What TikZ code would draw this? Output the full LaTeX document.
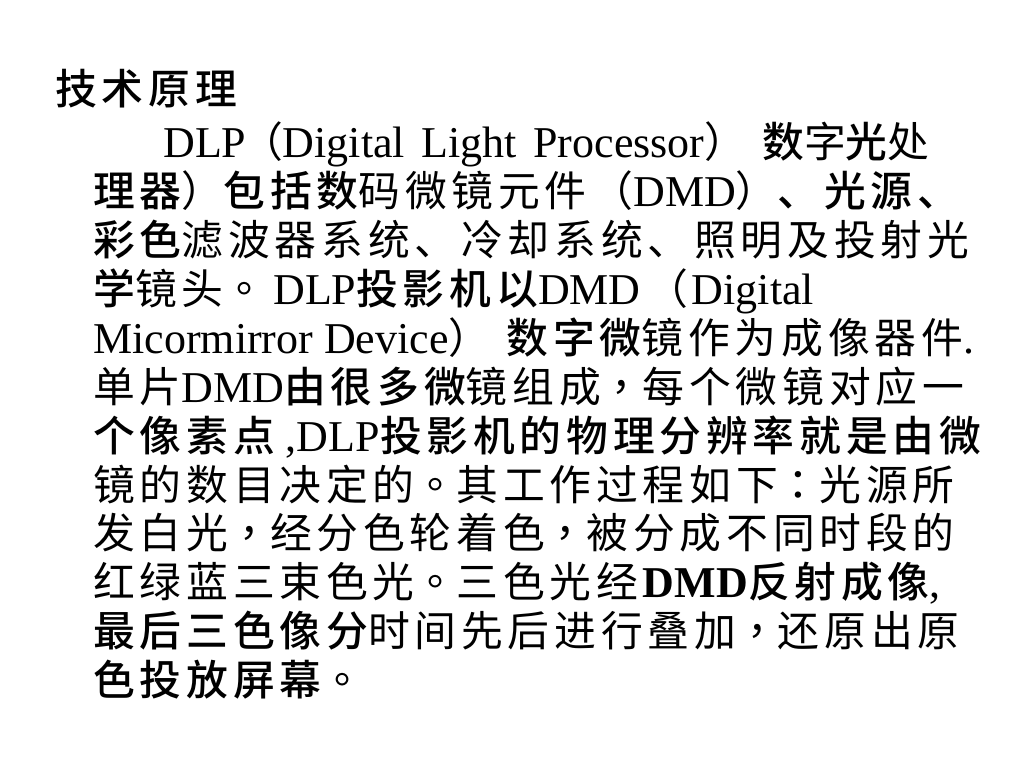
\documentclass[tikz,border=0pt]{standalone}
\usepackage{fontspec}
\setmainfont{Liberation Serif}
\newfontfamily\cjk[Scale=0.95,LetterSpace=11.5,BoldFont={Noto Sans CJK SC Medium}]{Noto Sans CJK SC}
\newfontfamily\cjktc[Scale=0.95,LetterSpace=11.5]{Noto Sans CJK TC}
\newcommand\zh[1]{{\cjk #1}}
\newcommand\zhb[1]{{\cjk\bfseries #1}}
\newcommand\zhp[1]{{\cjktc #1}}
\begin{document}
\begin{tikzpicture}[x=0.75pt,y=-0.75pt,
  txtline/.style={anchor=base west,inner sep=0pt,font=\fontsize{33}{40}\selectfont}]
\fill[white] (0,0) rectangle (1024,768);
\useasboundingbox (0,0) rectangle (1024,768);
\node[txtline] (t)   at (55,104)  {\zhb{技术原理}};
\node[txtline] (l1)  at (163,157) {DLP\hspace{-4pt}\zh{（}\hspace{0pt}Digital\hspace{12.4pt}Light\hspace{12.4pt}Processor\zh{）}\hspace{12pt}\zhb{数}\zh{字}\zhb{光}\zh{处}};
\node[txtline] (l2)  at (93,206)  {\zhb{理器}\zh{）}\zhb{包括数}\zh{码微镜元件（}DMD\zh{）}\zhb{、光源、}};
\node[txtline] (l3)  at (93,255)  {\zhb{彩色}\zh{滤波器系统、冷却系统、照明及投射光}};
\node[txtline] (l4)  at (93,304)  {\zhb{学}\zh{镜头}\zhp{。}\hspace{6pt}DLP\zhb{投影机以}DMD\hspace{4pt}\zh{（}\hspace{3pt}Digital};
\node[txtline] (l5)  at (93,353)  {Micormirror Device\zh{）}\hspace{12pt}\zhb{数字微}\zh{镜作为成像器件}.};
\node[txtline] (l6)  at (93,402)  {\zh{单片}DMD\zhb{由很多微}\zh{镜组成}\zhp{，}\zh{每个微镜对应一}};
\node[txtline] (l7)  at (93,451)  {\zhb{个像素点} ,DLP\zhb{投影机的物理分辨率就是由微}};
\node[txtline] (l8)  at (93,500)  {\zh{镜的数目决定的}\zhp{。}\zh{其工作过程如下}\zhp{：}\zh{光源所}};
\node[txtline] (l9)  at (93,548)  {\zh{发白光}\zhp{，}\zh{经分色轮着色}\zhp{，}\zh{被分成不同时段的}};
\node[txtline] (l10) at (93,597)  {\zh{红绿蓝三束色光}\zhp{。}\zh{三色光经}\textbf{DMD}\zhb{反射成像},};
\node[txtline] (l11) at (93,646)  {\zhb{最后三色像分}\zh{时间先后进行叠加}\zhp{，}\zh{还原出原}};
\node[txtline] (l12) at (93,695)  {\zhb{色投放屏幕}\zhp{。}};
\end{tikzpicture}
\end{document}
